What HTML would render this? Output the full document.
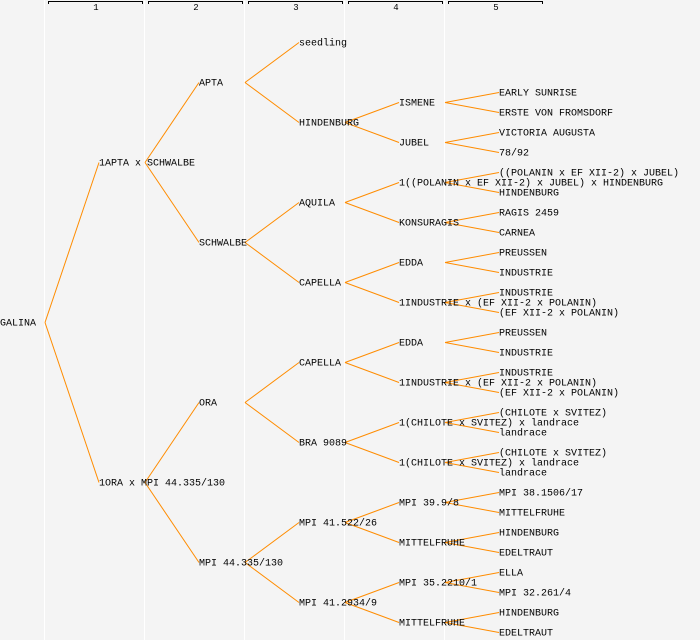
<!DOCTYPE html>
<html><head><meta charset="utf-8">
<style>
html,body{margin:0;padding:0;background:#f4f4f4;}
svg{display:block;}
text{font-family:"Liberation Mono","DejaVu Sans Mono",monospace;font-size:10px;fill:#000;}
.hdr{font-size:9px;}
</style></head>
<body>
<svg id="chart" width="700" height="640" xmlns="http://www.w3.org/2000/svg">
<rect x="0" y="0" width="700" height="640" fill="#f4f4f4"/>
<g id="seps"></g>
<g id="hdrs"></g>
<g id="lines"></g>
<g id="labels"></g>
</svg>
<script>
const generationLabels = ["1","2","3","4","5"];
const nodeKeys = ["","0","1","00","01","10","11",
"000","001","010","011","100","101","110","111",
"0010","0011","0100","0101","0110","0111","1000","1001","1010","1011","1100","1101","1110","1111",
"00100","00101","00110","00111","01000","01001","01010","01011","01100","01101","01110","01111",
"10000","10001","10010","10011","10100","10101","10110","10111","11000","11001","11010","11011","11100","11101","11110","11111"];
const nodeNames = ["GALINA","1APTA x SCHWALBE","1ORA x MPI 44.335/130","APTA","SCHWALBE","ORA","MPI 44.335/130",
"seedling","HINDENBURG","AQUILA","CAPELLA","CAPELLA","BRA 9089","MPI 41.522/26","MPI 41.2934/9",
"ISMENE","JUBEL","1((POLANIN x EF XII-2) x JUBEL) x HINDENBURG","KONSURAGIS","EDDA","1INDUSTRIE x (EF XII-2 x POLANIN)","EDDA","1INDUSTRIE x (EF XII-2 x POLANIN)","1(CHILOTE x SVITEZ) x landrace","1(CHILOTE x SVITEZ) x landrace","MPI 39.9/8","MITTELFRUHE","MPI 35.2210/1","MITTELFRUHE",
"EARLY SUNRISE","ERSTE VON FROMSDORF","VICTORIA AUGUSTA","78/92","((POLANIN x EF XII-2) x JUBEL)","HINDENBURG","RAGIS 2459","CARNEA","PREUSSEN","INDUSTRIE","INDUSTRIE","(EF XII-2 x POLANIN)",
"PREUSSEN","INDUSTRIE","INDUSTRIE","(EF XII-2 x POLANIN)","(CHILOTE x SVITEZ)","landrace","(CHILOTE x SVITEZ)","landrace","MPI 38.1506/17","MITTELFRUHE","HINDENBURG","EDELTRAUT","ELLA","MPI 32.261/4","HINDENBURG","EDELTRAUT"];

const NS="http://www.w3.org/2000/svg";
const ROOT_Y=322, SPAN=320, COL=100;
function genX(g){return g===0?0:COL*g-1;}
function keyY(k){let y=ROOT_Y;for(let i=0;i<k.length;i++){const off=SPAN/Math.pow(2,i+1);y+=(k[i]==="1"?off:-off);}return y;}
function mk(tag,attrs,parent){const e=document.createElementNS(NS,tag);for(const a in attrs)e.setAttribute(a,attrs[a]);parent.appendChild(e);return e;}

const seps=document.getElementById('seps');
for(let i=0;i<generationLabels.length;i++){
  const s=mk('rect',{x:44+COL*i,y:0,width:1,height:640,fill:'#ffffff'},seps);
  
  
}
const hdrs=document.getElementById('hdrs');
generationLabels.forEach((lab,i)=>{
  const x0=48+COL*i,x1=142+COL*i;
  const p=mk('path',{d:`M${x0+0.5},4V1.5H${x1+0.5}V4`,stroke:'#000',fill:'none','stroke-width':1},hdrs);
  
  
  const t=mk('text',{x:(x0+x1)/2+1,y:10,'text-anchor':'middle',class:'hdr'},hdrs);
  
  
  t.textContent=lab;
});
const lines=document.getElementById('lines');
const labels=document.getElementById('labels');
nodeKeys.forEach((k,i)=>{
  const g=k.length,y=keyY(k);
  if(g>0){
    const pk=k.slice(0,-1),py=keyY(pk);
    const l=mk('line',{x1:COL*(g-1)+45,y1:py+0.5,x2:genX(g),y2:y+0.5,stroke:'#ff8c00','stroke-width':1},lines);
    
    
  }
  const t=mk('text',{x:genX(g),y:y+3.5},labels);
  
  
  t.textContent=nodeNames[i];
});
</script>
</body></html>
